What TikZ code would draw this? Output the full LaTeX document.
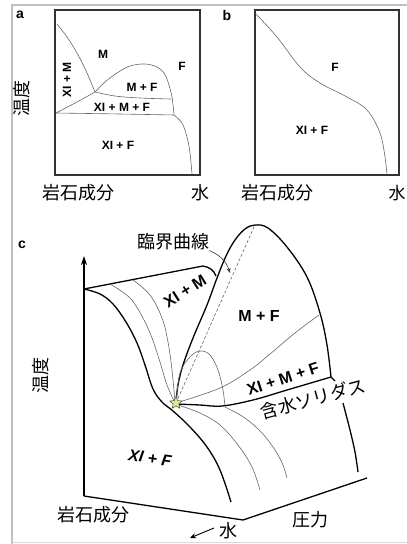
\documentclass[tikz,border=0pt]{standalone}
\usepackage{fontspec}
\setmainfont{Liberation Sans}
\setsansfont{Liberation Sans}
\newfontfamily\jp{Noto Sans CJK JP}
\usetikzlibrary{arrows.meta,shapes.geometric}
\begin{document}
\begin{tikzpicture}[x=1pt,y=-1pt,
  framel/.style={draw=black!80, line width=1.2pt},
  thinl/.style={draw=black!60, line width=0.6pt},
  thickl/.style={draw=black, line width=1.3pt},
  lbl/.style={font=\fontsize{12}{12}\selectfont\bfseries, inner sep=0},
  lblc/.style={font=\fontsize{16}{16}\selectfont\bfseries, inner sep=0},
  plabel/.style={font=\fontsize{14}{14}\selectfont\bfseries, inner sep=0},
  jpl/.style={font=\jp\fontsize{18}{18}\selectfont, inner sep=0},
  sm/.style={smooth, tension=0.6}]
\useasboundingbox (0,0) rectangle (407,544);
% outer gray frame
\draw[black!25, line width=2pt] (11.5,544) -- (11.5,5) -- (407,5);
\draw[black!15, line width=1pt] (11.5,542.5) -- (407,542.5);

% ---------------- panel a ----------------
\node[plabel] (la) at (20,15) {a};
\draw[framel] (55,10) rectangle (200,175);
\draw[thinl] plot[sm] coordinates {(57,24) (67,37) (77,53) (87,73) (95,92)};
\draw[thinl] plot[sm] coordinates {(95,92) (105,82) (117,73) (130,66) (145,64) (157,67) (164,73) (168,82) (172,97) (174,115)};
\draw[thinl] plot[sm] coordinates {(95,92) (115,96) (140,98) (171,99)};
\draw[thinl] plot[sm] coordinates {(56,113) (77,102) (95,92)};
\draw[thinl] plot[sm] coordinates {(56,113) (120,114) (174,115)};
\draw[thinl] plot[sm] coordinates {(174,115) (182,123) (187,137) (190,153) (192,174)};
\node[lbl] (aM) at (103,54) {M};
\node[lbl] (aF) at (182,66) {F};
\node[lbl] (aMF) at (142,87) {M + F};
\node[lbl, rotate=90] (aXM) at (67,80) {XI + M};
\node[lbl] (aXMF) at (122,107) {XI + M + F};
\node[lbl] (aXF) at (118,145) {XI + F};
\node[jpl, rotate=90] (aT) at (22,98) {温度};
\node[jpl] (aR) at (78,193) {岩石成分};
\node[jpl] (aW) at (200,193) {水};

% ---------------- panel b ----------------
\node[plabel] (lb) at (227,15) {b};
\draw[framel] (255,10) rectangle (399,175);
\draw[thinl] plot[sm] coordinates {(256,14) (277,37) (300,67) (320,83) (347,97) (367,110) (380,133) (385,157) (387,175)};
\node[lbl] (bF) at (335,67) {F};
\node[lbl] (bXF) at (312,130) {XI + F};
\node[jpl] (bR) at (277,193) {岩石成分};
\node[jpl, font=\jp\fontsize{17}{17}\selectfont] (bW) at (397,193) {水};

% ---------------- panel c ----------------
\node[plabel] (lc) at (22,245) {c};
\coordinate (T0) at (84,496);
\coordinate (T1) at (84,256);
\coordinate (B1) at (243,520);
\coordinate (B2) at (367,478);
\draw[thickl, -{Stealth[length=9pt,width=6pt]}] (T0) -- (T1);
\draw[thickl] (T0) -- (B1) -- (B2);
% top edge
\draw[thickl] (84,289) -- (203,266) to[out=-10,in=110] (216,276);
% dome outer
\draw[thickl] plot[sm] coordinates {(176,403) (178,385) (183,365) (193,338) (207,305) (217,278) (226,256) (235,240) (245,229) (255,225) (268,228) (287,247) (307,277) (320,313) (327,345) (331,377)};
% solidus
\draw[thickl] plot[sm] coordinates {(176,404) (200,405) (222,406) (253,400) (287,390) (331,377)};
\draw[thickl] (331,377) -- (335,381);
% right edge of lower surface
\draw[thickl] plot[sm] coordinates {(343,403) (350,430) (355,452) (358,472)};
% thick left boundary
\draw[thickl] plot[sm] coordinates {(84,289) (100,294) (113,304) (126,322) (137,343) (145,365) (153,389) (162,402) (173,411) (190,427) (207,447) (220,470) (231,502)};
% thin fold lines
\draw[thinl] plot[sm] coordinates {(110,284) (130,298) (143,318) (152,338) (160,362) (167,385) (175,403)};
\draw[thinl] plot[sm] coordinates {(133,280) (150,295) (162,318) (168,342) (172,370) (175,402)};
% small loop
\draw[thinl] plot[sm] coordinates {(176,403) (180,373) (190,357) (200,351) (210,355) (218,370) (223,390) (225,407)};
% lines below solidus
\draw[thinl] plot[sm] coordinates {(178,405) (200,413) (220,425) (238,445) (252,467) (260,490)};
\draw[thinl] plot[sm] coordinates {(225,407) (245,418) (262,433) (275,450) (283,465) (287,478)};
% M+F / XI+M+F boundary
\draw[thinl] plot[sm] coordinates {(176,403) (220,388) (250,370) (270,354) (295,333) (319,315)};
% critical curve
\coordinate (CP) at (176,403);
\coordinate (CT) at (254,227);
\draw[black!60, line width=0.6pt, dash pattern=on 3pt off 2pt] (CP) -- (CT);
\node[star, star points=5, star point ratio=2.2, minimum size=13pt, inner sep=0, draw=black!70, line width=0.5pt, fill=yellow!70!green!50] (st) at (CP) {};
\node[jpl] (crit) at (173,242) {臨界曲線};
\coordinate (critend) at (230,273);
\draw[black!80, line width=0.6pt, -{Stealth[length=5pt,width=4pt]}] (crit.south east) to[bend left=25] (critend);
% labels
\node[lblc, rotate=32] (cXM) at (185,291) {XI + M};
\node[lblc] (cMF) at (259,316) {M + F};
\node[lblc, rotate=18] (cXMF) at (283,379) {XI + M + F};
\node[jpl, rotate=15] (csol) at (313,399) {含水ソリダス};
\node[lblc, rotate=-8, font=\fontsize{16}{16}\selectfont\bfseries\itshape] (cXF) at (150,458) {XI + F};
\node[jpl, rotate=90] (cT) at (41,375) {温度};
\node[jpl] (cR) at (93,515) {岩石成分};
\coordinate (wa) at (214,528);
\coordinate (wb) at (190,538);
\draw[black, line width=0.9pt, -{Stealth[length=6pt,width=5pt]}] (wa) -- (wb);
\node[jpl] (cW) at (228,531) {水};
\node[jpl] (cP) at (310,520) {圧力};
\end{tikzpicture}
\end{document}
